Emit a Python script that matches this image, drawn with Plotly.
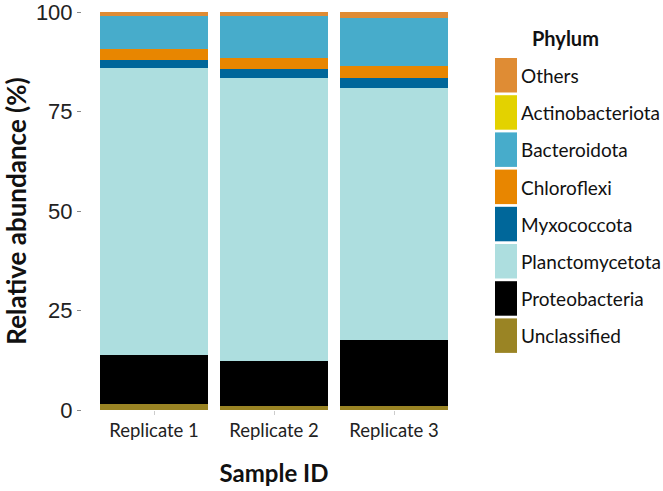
import plotly.graph_objects as go

samples = ["Replicate 1", "Replicate 2", "Replicate 3"]
phyla_stack = ["Unclassified", "Proteobacteria", "Planctomycetota", "Myxococcota",
               "Chloroflexi", "Bacteroidota", "Actinobacteriota", "Others"]
unclassified = [1.5, 1.1, 0.9]
proteobacteria = [12.2, 11.3, 16.7]
planctomycetota = [72.3, 71.0, 63.3]
myxococcota = [1.9, 2.2, 2.4]
chloroflexi = [2.9, 2.9, 3.1]
bacteroidota = [8.2, 10.5, 12.1]
actinobacteriota = [0.05, 0.05, 0.05]
others = [1.0, 1.0, 1.5]
values = [unclassified, proteobacteria, planctomycetota, myxococcota,
          chloroflexi, bacteroidota, actinobacteriota, others]
colors = ["#9A8424", "#000000", "#ADDEDF", "#00679A",
          "#E88600", "#47ACCB", "#E3D200", "#DF8C34"]
legend_order = ["Others", "Actinobacteriota", "Bacteroidota", "Chloroflexi",
                "Myxococcota", "Planctomycetota", "Proteobacteria", "Unclassified"]
y_ticks = [0, 25, 50, 75, 100]

W, H = 663, 491
ML, MR, MT, MB = 82, 197, 12, 81
PW, PH = W - ML - MR, H - MT - MB

fig = go.Figure()
for name, vals, col in zip(phyla_stack, values, colors):
    fig.add_trace(go.Bar(x=samples, y=vals, name=name, marker_color=col,
                         marker_line_width=0, showlegend=False))

def px(x):
    return (x - ML) / PW

def py(y):
    return 1 - (y - MT) / PH

color_of = dict(zip(phyla_stack, colors))
shapes = []
annotations = []
annotations.append(dict(text="<b>Phylum</b>", x=px(530), y=py(38), xref="paper", yref="paper",
                        xanchor="left", yanchor="middle", showarrow=False,
                        font=dict(family="Lato", size=20, color="#111111")))
pitch = 37.2
for i, name in enumerate(legend_order):
    top = 58 + i * pitch
    shapes.append(dict(type="rect", xref="paper", yref="paper",
                       x0=px(495), x1=px(517), y0=py(top), y1=py(top + 34.5),
                       fillcolor=color_of[name], line=dict(width=0)))
    annotations.append(dict(text=name, x=px(519), y=py(top + 17.5), xref="paper", yref="paper",
                            xanchor="left", yanchor="middle", showarrow=False,
                            font=dict(family="Lato", size=19, color="#111111")))

fig.update_layout(
    barmode="stack", bargap=0.1,
    width=W, height=H,
    margin=dict(l=ML, r=MR, t=MT, b=MB, pad=0, autoexpand=False),
    plot_bgcolor="white", paper_bgcolor="white",
    shapes=shapes, annotations=annotations,
    xaxis=dict(range=[-0.6, 2.6], showgrid=False, zeroline=False,
               showline=False, automargin=False,
               ticks="outside", ticklen=4, tickcolor="#CCCCCC",
               tickfont=dict(family="Lato", size=18.5, color="#222222"),
               title=dict(text="<b>Sample ID</b>", standoff=24,
                          font=dict(family="Lato", size=24, color="#111111"))),
    yaxis=dict(range=[0, 100], showgrid=False, zeroline=False,
               showline=False, ticklabeloverflow="allow", automargin=False,
               tickvals=y_ticks, ticktext=[str(v) for v in y_ticks],
               ticks="outside", ticklen=4, tickcolor="#888888",
               tickfont=dict(family="Liberation Sans", size=22, color="#222222"),
               title=dict(text="<b>Relative abundance (%)</b>", standoff=8,
                          font=dict(family="Lato", size=26, color="#111111"))),
)
fig.write_html("out.html")
